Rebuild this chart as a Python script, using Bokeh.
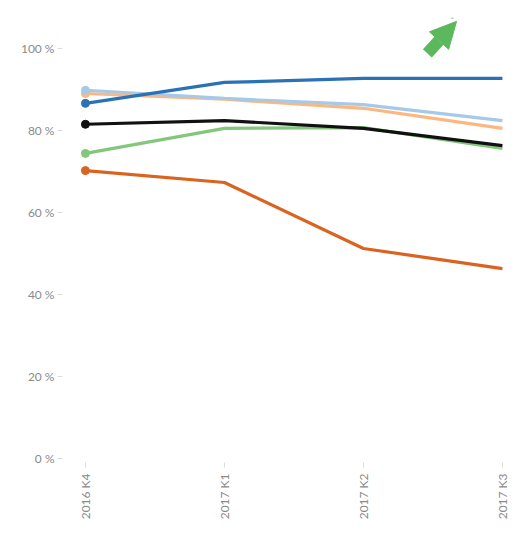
from bokeh.plotting import figure
from bokeh.models import Range1d, FixedTicker, Arrow, NormalHead
from bokeh.embed import file_html
from bokeh.resources import INLINE
import math

quarters = ["2016 K4", "2017 K1", "2017 K2", "2017 K3"]
xs = [0, 1, 2, 3]

s_green = [74.4, 80.5, 80.7, 75.6]
s_lorange = [89.0, 87.6, 85.4, 80.5]
s_lblue = [89.8, 87.8, 86.3, 82.4]
s_dorange = [70.2, 67.3, 51.2, 46.3]
s_dblue = [86.6, 91.7, 92.7, 92.7]
s_black = [81.5, 82.4, 80.5, 76.3]

yticks = [0, 20, 40, 60, 80, 100]
ytick_labels = {0: "0 %", 20: "20 %", 40: "40 %", 60: "60 %", 80: "80 %", 100: "100 %"}

series = [
    (s_green, "#82c77c"),
    (s_lorange, "#fbb77f"),
    (s_lblue, "#a7c9e8"),
    (s_dorange, "#d9631f"),
    (s_dblue, "#2a72b5"),
    (s_black, "#111111"),
]

p = figure(width=512, height=532, output_backend="svg", toolbar_location=None,
           x_range=Range1d(-0.165, 3.058), y_range=Range1d(-1, 107.3),
           min_border_left=62, min_border_right=2, min_border_top=18, min_border_bottom=70)
p.outline_line_color = None
p.xgrid.grid_line_color = None
p.ygrid.grid_line_color = None

for vals, col in series:
    p.line(xs, vals, line_color=col, line_width=3.2)
    p.scatter([xs[0]], [vals[0]], size=8, fill_color=col, line_color=col)

# y axis
p.yaxis.ticker = FixedTicker(ticks=yticks)
p.yaxis.major_label_overrides = ytick_labels
p.yaxis.axis_line_color = None
p.yaxis.minor_tick_line_color = None
p.yaxis.major_tick_line_color = "#dddddd"
p.yaxis.major_tick_in = 0
p.yaxis.major_tick_out = 5
p.yaxis.major_label_text_color = "#8a8a8a"
p.yaxis.major_label_text_font = "Lato"
p.yaxis.major_label_text_font_size = "12px"
p.yaxis.major_label_standoff = 3

# x axis
p.xaxis.ticker = FixedTicker(ticks=xs)
p.xaxis.major_label_overrides = {i: q for i, q in zip(xs, quarters)}
p.xaxis.major_label_orientation = math.pi / 2
p.xaxis.axis_line_color = None
p.xaxis.minor_tick_line_color = None
p.xaxis.major_tick_line_color = "#dddddd"
p.xaxis.major_tick_in = 0
p.xaxis.major_tick_out = 5
p.xaxis.major_label_text_color = "#8a8a8a"
p.xaxis.major_label_text_font = "Lato"
p.xaxis.major_label_text_font_size = "12px"
p.xaxis.major_label_standoff = 6

# green trend arrow (decoration)
p.add_layout(Arrow(end=NormalHead(size=26, fill_color="#5cb85c", line_color="#5cb85c"),
                   x_start=2.46, y_start=98.8, x_end=2.67, y_end=106.6,
                   line_color="#5cb85c", line_width=12))

open("out.html", "w").write(file_html(p, INLINE))
